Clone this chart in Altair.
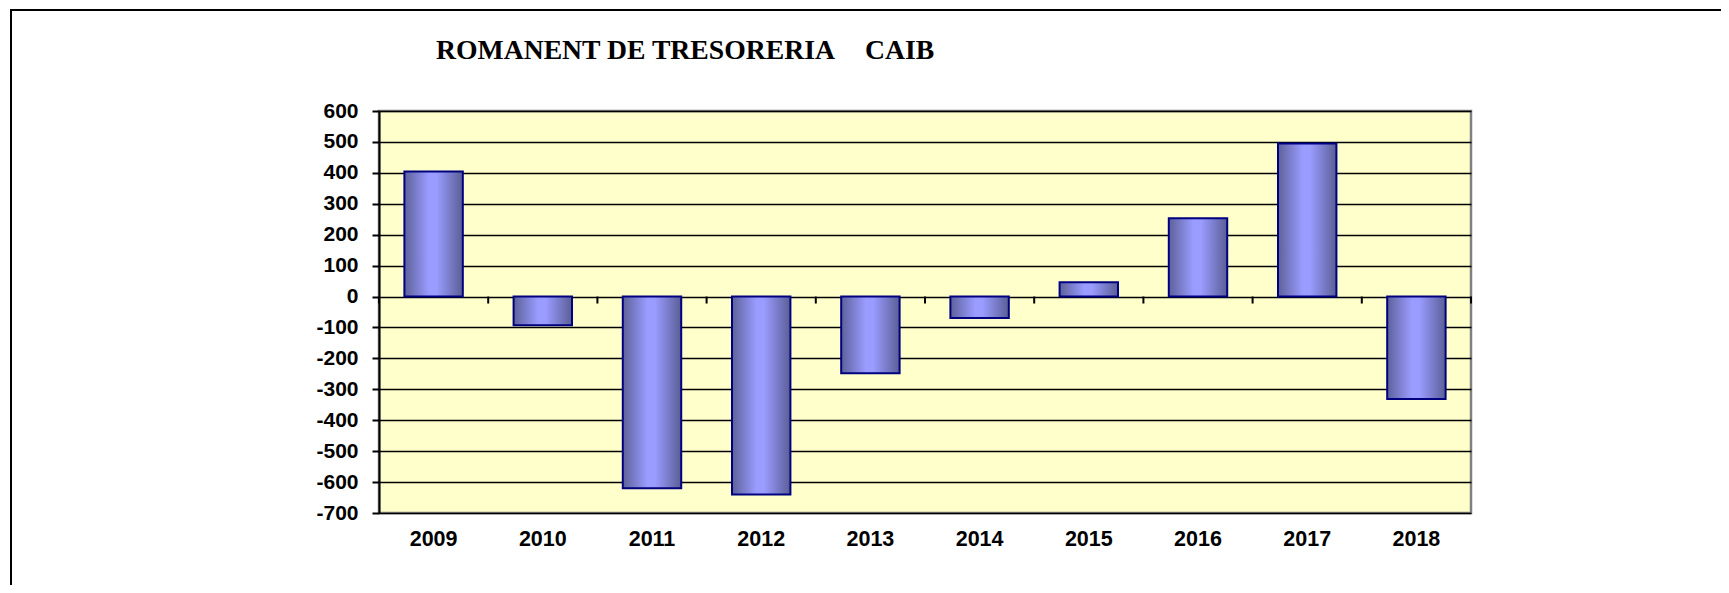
import altair as alt
import pandas as pd

years = ["2009", "2010", "2011", "2012", "2013", "2014", "2015", "2016", "2017", "2018"]
values = [404, -93, -620, -640, -248, -69, 46, 253, 495, -331]
y_ticks = [600, 500, 400, 300, 200, 100, 0, -100, -200, -300, -400, -500, -600, -700]
title_text = "ROMANENT DE TRESORERIA\u00a0\u00a0\u00a0\u00a0\u200aCAIB"

W, H = 1092, 402
PAD_L, PAD_T = 371, 103
TOTAL_W, TOTAL_H = 1713, 577

df = pd.DataFrame({"year": years, "value": values})
ticks_df = pd.DataFrame({"year": years})
last_df = pd.DataFrame({"year": [years[-1]]})
title_df = pd.DataFrame({"t": [title_text]})

xscale = alt.Scale(domain=years, paddingInner=0, paddingOuter=0)
yscale = alt.Scale(domain=[-700, 600], nice=False, zero=False)

grad = alt.Gradient(
    gradient="linear",
    x1=0, x2=1, y1=0, y2=0,
    stops=[
        alt.GradientStop(color="#5d6199", offset=0),
        alt.GradientStop(color="#9a9cff", offset=0.42),
        alt.GradientStop(color="#9a9cff", offset=0.55),
        alt.GradientStop(color="#5a5e95", offset=1),
    ],
)

bars = alt.Chart(df).mark_bar(
    color=grad, stroke="#000080", strokeWidth=2,
    width=alt.RelativeBandSize(0.535),
).encode(
    x=alt.X("year:N", scale=xscale, sort=years,
            axis=alt.Axis(title=None, domain=False, ticks=False, tickSize=0,
                          labelPadding=15, labelAngle=0,
                          labelFont="Liberation Sans", labelFontSize=21.5,
                          labelFontWeight="bold", labelColor="black")),
    y=alt.Y("value:Q", scale=yscale,
            axis=alt.Axis(title=None, values=y_ticks, tickCount=30, grid=True,
                          gridColor="black", gridWidth=1.4, gridOpacity=1,
                          labelOverlap=False,
                          labelExpr="datum.value < 0 ? '-' + abs(datum.value) : '' + datum.value",
                          domain=True, domainColor="black", domainWidth=2,
                          ticks=True, tickColor="black", tickSize=7, tickWidth=2,
                          labelPadding=14, labelFont="Liberation Sans",
                          labelFontSize=21, labelFontWeight="bold",
                          labelColor="black")),
)

tick_marks = alt.Chart(ticks_df).mark_rule(color="black", strokeWidth=2).encode(
    x=alt.X("year:N", scale=xscale, sort=years, bandPosition=0),
    y=alt.datum(0),
    y2=alt.datum(-22.6),
)
last_tick = alt.Chart(last_df).mark_rule(color="black", strokeWidth=2).encode(
    x=alt.X("year:N", scale=xscale, sort=years, bandPosition=1),
    y=alt.datum(0),
    y2=alt.datum(-22.6),
)

title = alt.Chart(title_df).mark_text(
    align="left", baseline="alphabetic", font="Liberation Serif",
    fontSize=27.7, fontWeight="bold", color="black",
).encode(
    text="t:N",
    x=alt.value(57),
    y=alt.value(-52.5),
)

frame_top = alt.Chart(title_df).mark_rule(color="black", strokeWidth=2).encode(
    x=alt.value(-368), x2=alt.value(TOTAL_W - PAD_L), y=alt.value(-101),
)
frame_left = alt.Chart(title_df).mark_rule(color="black", strokeWidth=2).encode(
    x=alt.value(-368), y=alt.value(-102), y2=alt.value(TOTAL_H - PAD_T),
)

chart = alt.layer(bars, tick_marks, last_tick, title, frame_top, frame_left).properties(
    width=W, height=H,
    autosize=alt.AutoSizeParams(type="none"),
    padding={"left": PAD_L, "top": PAD_T,
             "right": TOTAL_W - PAD_L - W, "bottom": TOTAL_H - PAD_T - H},
    background="white",
).configure_view(
    fill="#FFFFCC", stroke="#808080", strokeWidth=2.5,
)

chart.save("out.html", embed_options={"renderer": "svg", "actions": False})
